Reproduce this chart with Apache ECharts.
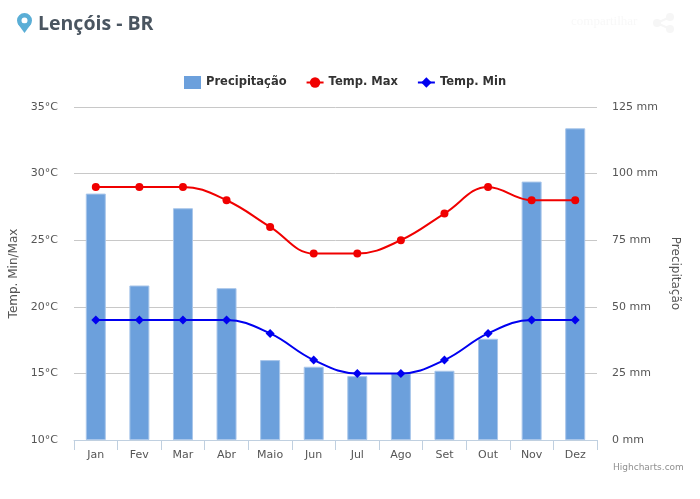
<!DOCTYPE html>
<html>
<head>
<meta charset="utf-8">
<title>Lençóis - BR</title>
<script src="https://cdn.jsdelivr.net/npm/echarts@6/dist/echarts.min.js"></script>
<style>
  html, body { margin: 0; padding: 0; background: #fff; }
  #chart { width: 700px; height: 499px; }
</style>
</head>
<body>
<div id="chart"></div>
<script>
// dados
const months = ['Jan', 'Fev', 'Mar', 'Abr', 'Maio', 'Jun', 'Jul', 'Ago', 'Set', 'Out', 'Nov', 'Dez']
const precipitation = [92.5, 58, 87, 57, 30, 27.5, 24, 25, 26, 38, 97, 117]
const tempMax = [29, 29, 29, 28, 26, 24, 24, 25, 27, 29, 28, 28]
const tempMin = [19, 19, 19, 19, 18, 16, 15, 15, 16, 18, 19, 19]

const labelFont = 'DejaVu Sans'
const labelColor = '#555'
const pinColor = '#5aaed6'
const shareColor = '#f6f6f6'

const chart = echarts.init(document.getElementById('chart'))

const option = {
  animation: false,
  backgroundColor: '#fff',
  textStyle: { fontFamily: labelFont },
  title: {
    text: 'Lençóis - BR',
    left: 33,
    top: 9,
    textStyle: { fontFamily: 'Open Sans', fontSize: 19.5, fontWeight: 'bold', color: '#4a5560' }
  },
  legend: {
    top: 71,
    left: 179,
    itemGap: 19,
    itemWidth: 17,
    itemHeight: 13,
    itemStyle: { borderWidth: 0 },
    textStyle: { fontFamily: labelFont, fontSize: 11.5, fontWeight: 'bold', color: '#333' },
    data: [{ name: 'Precipitação', icon: 'rect' }, 'Temp. Max', 'Temp. Min']
  },
  grid: { left: 74, right: 103, top: 107, bottom: 59, outerBoundsMode: 'none' },
  xAxis: {
    type: 'category',
    data: months,
    axisLine: { lineStyle: { color: '#c0d0e0', width: 1 } },
    axisTick: { show: true, length: 10, alignWithLabel: false, lineStyle: { color: '#c0d0e0' } },
    axisLabel: { color: labelColor, fontSize: 11, margin: 10 }
  },
  yAxis: [
    {
      type: 'value',
      min: 10,
      max: 35,
      interval: 5,
      name: 'Temp. Min/Max',
      nameLocation: 'middle',
      nameGap: 51,
      nameTextStyle: { color: labelColor, fontSize: 12 },
      axisLabel: { color: labelColor, fontSize: 11, margin: 16, formatter: '{value}°C' },
      axisLine: { show: false },
      axisTick: { show: false },
      splitLine: { lineStyle: { color: '#c8c8c8', width: 1 } }
    },
    {
      type: 'value',
      min: 0,
      max: 125,
      interval: 25,
      name: 'Precipitação',
      nameLocation: 'middle',
      nameGap: 71,
      nameRotate: -90,
      nameTextStyle: { color: labelColor, fontSize: 12 },
      axisLabel: { color: labelColor, fontSize: 11, margin: 15, formatter: '{value} mm' },
      axisLine: { show: false },
      axisTick: { show: false },
      splitLine: { show: false }
    }
  ],
  series: [
    {
      name: 'Precipitação',
      type: 'bar',
      yAxisIndex: 1,
      barWidth: 20,
      data: precipitation,
      itemStyle: { color: '#6ca0dc', borderColor: '#a9c6ea', borderWidth: 1 }
    },
    {
      name: 'Temp. Max',
      type: 'line',
      yAxisIndex: 0,
      smooth: 0.4,
      data: tempMax,
      symbol: 'circle',
      symbolSize: 8,
      lineStyle: { color: '#f00000', width: 2 },
      itemStyle: { color: '#f00000' }
    },
    {
      name: 'Temp. Min',
      type: 'line',
      yAxisIndex: 0,
      smooth: 0.4,
      data: tempMin,
      symbol: 'diamond',
      symbolSize: 9,
      lineStyle: { color: '#0000f0', width: 2 },
      itemStyle: { color: '#0000f0' }
    }
  ],
  graphic: [
    // marcador do título
    { type: 'polygon', shape: { points: [[17.6, 23.5], [31.4, 23.5], [24.5, 33]] }, style: { fill: pinColor } },
    { type: 'ring', shape: { cx: 24.5, cy: 20.5, r: 7.5, r0: 3 }, style: { fill: pinColor } },
    // botão compartilhar, quase invisível
    { type: 'text', x: 571, y: 15, style: { text: 'compartilhar', font: '13px "Liberation Serif"', fill: '#f8f8f8' } },
    { type: 'line', shape: { x1: 657, y1: 23, x2: 670, y2: 17 }, style: { stroke: shareColor, lineWidth: 2 } },
    { type: 'line', shape: { x1: 657, y1: 23, x2: 670, y2: 29 }, style: { stroke: shareColor, lineWidth: 2 } },
    { type: 'circle', shape: { cx: 657, cy: 23, r: 4 }, style: { fill: shareColor } },
    { type: 'circle', shape: { cx: 670, cy: 17, r: 4 }, style: { fill: shareColor } },
    { type: 'circle', shape: { cx: 670, cy: 29, r: 4 }, style: { fill: shareColor } },
    { type: 'text', x: 613, y: 463, style: { text: 'Highcharts.com', font: '9px "DejaVu Sans"', fill: '#909090' } }
  ]
}

chart.setOption(option)
</script>
</body>
</html>
